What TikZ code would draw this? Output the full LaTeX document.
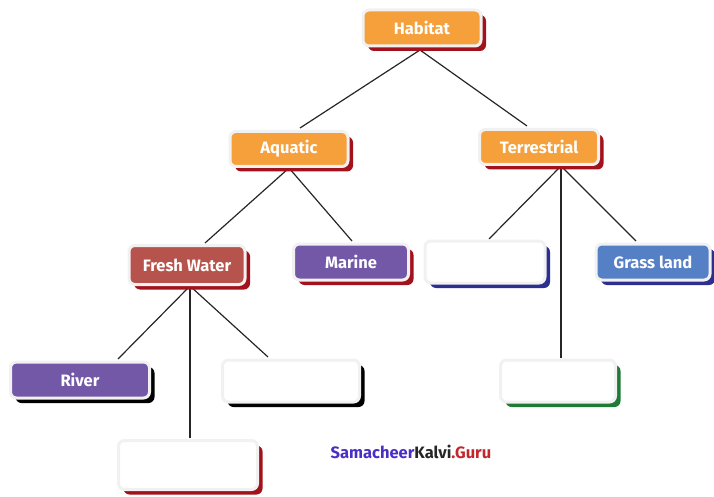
\documentclass[tikz,border=0pt]{standalone}
\usepackage{fontspec}
\setmainfont{Fira Sans}
\usetikzlibrary{shadows,backgrounds}
\definecolor{orng}{HTML}{F6A03C}
\definecolor{fwred}{HTML}{B7534D}
\definecolor{purp}{HTML}{7458A8}
\definecolor{blu}{HTML}{5580C6}
\definecolor{shred}{HTML}{A3121C}
\definecolor{shblue}{HTML}{2C2F8E}
\definecolor{shgreen}{HTML}{1F7A35}
\definecolor{wmpurp}{HTML}{4A2FC6}
\definecolor{wmred}{HTML}{C3262C}
\definecolor{frame}{HTML}{F1F1F1}
\begin{document}
\begin{tikzpicture}[x=1pt,y=-1pt,
  box/.style={rounded corners=6pt, draw=frame, line width=3pt, inner sep=0pt,
    text=white, font=\bfseries\fontsize{16.5}{18}\selectfont},
  sh/.style={drop shadow={shadow xshift=5pt, shadow yshift=-5pt, fill=#1, opacity=1}},
  link/.style={draw=black!85, line width=1.2pt}]
\useasboundingbox (0,0) rectangle (714,497);
% nodes
\node[box, sh=shred, fill=orng, minimum width=118pt, minimum height=36pt] (hab) at (422,28) {Habitat};
\node[box, sh=shred, fill=orng, minimum width=118pt, minimum height=35pt] (aq) at (289,149) {Aquatic};
\node[box, sh=shred, fill=orng, minimum width=119pt, minimum height=35pt] (ter) at (539,147) {Terrestrial};
\node[box, sh=shred, fill=fwred, minimum width=116pt, minimum height=39pt] (fw) at (187,265) {Fresh Water};
\node[box, sh=shred, fill=purp, minimum width=115pt, minimum height=36pt] (mar) at (351,262) {Marine};
\node[box, sh=shblue, fill=white, minimum width=120pt, minimum height=42pt] (b1) at (485,262) {};
\node[box, sh=shblue, fill=blu, minimum width=114pt, minimum height=36pt] (gl) at (653,262) {Grass land};
\node[box, sh=black, fill=purp, minimum width=139pt, minimum height=36pt] (riv) at (80,380) {River};
\node[box, sh=black, fill=white, minimum width=137pt, minimum height=42pt] (b2) at (291,381) {};
\node[box, sh=shred, fill=white, minimum width=139pt, minimum height=49pt] (b3) at (188,465) {};
\node[box, sh=shgreen, fill=white, minimum width=115pt, minimum height=42pt] (b4) at (558,381) {};
\node[font=\bfseries\fontsize{16.5}{18}\selectfont, inner sep=0pt] (wm) at (411,452)
  {\textcolor{wmpurp}{Samacheer}\textcolor{black!85}{Kalvi}\textcolor{wmred}{.Guru}};
% junctions (parents) and line ends (children)
\coordinate (jh) at (420,50);
\coordinate (ja) at (289,168);
\coordinate (jt) at (561,166);
\coordinate (jf) at (190,286);
\coordinate (eaq) at (300,128);
\coordinate (eter) at (527,126);
\coordinate (efw) at (205,243);
\coordinate (emar) at (352,241);
\coordinate (eb1) at (489,239);
\coordinate (eb4) at (561,358);
\coordinate (egl) at (636,241);
\coordinate (eriv) at (118,359);
\coordinate (eb3) at (190,438);
\coordinate (eb2) at (268,357);
\begin{scope}[on background layer]
\draw[link] (jh) -- (eaq);
\draw[link] (jh) -- (eter);
\draw[link] (ja) -- (efw);
\draw[link] (ja) -- (emar);
\draw[link] (jt) -- (eb1);
\draw[link] (jt) -- (eb4);
\draw[link] (jt) -- (egl);
\draw[link] (jf) -- (eriv);
\draw[link] (jf) -- (eb3);
\draw[link] (jf) -- (eb2);
\end{scope}
\end{tikzpicture}
\end{document}
